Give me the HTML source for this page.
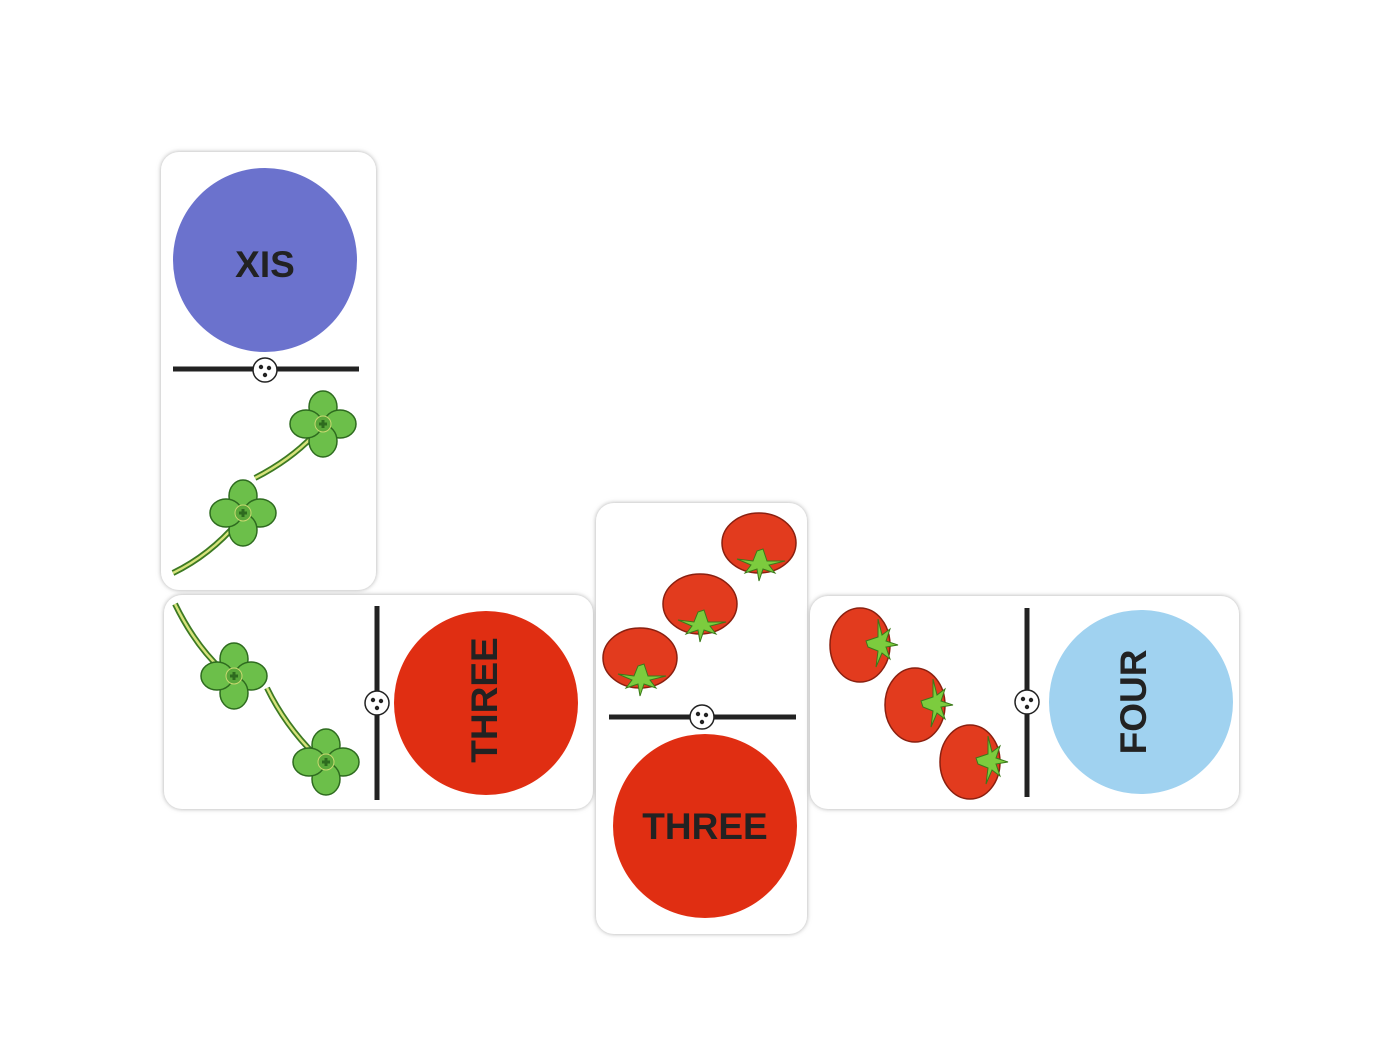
<!DOCTYPE html>
<html><head><meta charset="utf-8"><style>
html,body{margin:0;padding:0;background:#fff;}
svg{display:block;}
text{font-family:"Liberation Sans",sans-serif;font-weight:bold;fill:#222;}
</style></head><body>
<svg width="1400" height="1050" viewBox="0 0 1400 1050">
<defs>
<filter id="sh" x="-10%" y="-10%" width="120%" height="120%"><feDropShadow dx="0" dy="0" stdDeviation="2.5" flood-color="#888" flood-opacity="0.7"/></filter>
<g id="clover">
 <g stroke="#2e6b1f" stroke-width="1.5" fill="#6cbf4a">
  <ellipse cx="0" cy="-17" rx="14" ry="16"/>
  <ellipse cx="17" cy="0" rx="16" ry="14"/>
  <ellipse cx="0" cy="17" rx="14" ry="16"/>
  <ellipse cx="-17" cy="0" rx="16" ry="14"/>
 </g>
 <circle r="8" fill="#5aa83a" stroke="#c8d870" stroke-width="1"/>
 <path d="M-4 0h8M0 -4v8" stroke="#2e6b1f" stroke-width="3"/>
</g>
<g id="tom">
 <ellipse cx="0" cy="0" rx="37" ry="30" fill="#e23b1e" stroke="#8a2010" stroke-width="1.5"/>
 <path d="M-2 8 L-6 18 L-22 16 L-8 22 L-14 30 L-2 26 L0 38 L4 26 L16 30 L10 22 L26 18 L8 18 L4 6 Z" fill="#7ccc3e" stroke="#3a7a1a" stroke-width="1"/>
</g>
<g id="spin">
 <circle r="12" fill="#fff" stroke="#222" stroke-width="1.5"/>
 <circle cx="-4" cy="-3" r="2.2" fill="#222"/><circle cx="4" cy="-2" r="2.2" fill="#222"/><circle cx="0" cy="5" r="2.2" fill="#222"/>
</g>
</defs>

<!-- Tile 1 -->
<rect x="161" y="152" width="215" height="438" rx="18" fill="#fff" filter="url(#sh)"/>
<circle cx="265" cy="260" r="92" fill="#6b72cd"/>
<text x="265" y="277" font-size="37" text-anchor="middle">XIS</text>
<line x1="173" y1="369" x2="359" y2="369" stroke="#222" stroke-width="5"/>
<use href="#spin" x="265" y="370"/>
<path d="M255 478 Q290 460 313 436" stroke="#3d7a23" stroke-width="6" fill="none"/>
<path d="M255 478 Q290 460 313 436" stroke="#d6e37a" stroke-width="2.5" fill="none"/>
<path d="M173 573 Q210 555 238 522" stroke="#3d7a23" stroke-width="6" fill="none"/>
<path d="M173 573 Q210 555 238 522" stroke="#d6e37a" stroke-width="2.5" fill="none"/>
<use href="#clover" x="323" y="424"/>
<use href="#clover" x="243" y="513"/>

<!-- Tile 2 -->
<rect x="164" y="595" width="429" height="214" rx="18" fill="#fff" filter="url(#sh)"/>
<path d="M175 604 Q195 645 222 670" stroke="#3d7a23" stroke-width="6" fill="none"/>
<path d="M175 604 Q195 645 222 670" stroke="#d6e37a" stroke-width="2.5" fill="none"/>
<path d="M267 688 Q285 725 315 755" stroke="#3d7a23" stroke-width="6" fill="none"/>
<path d="M267 688 Q285 725 315 755" stroke="#d6e37a" stroke-width="2.5" fill="none"/>
<use href="#clover" x="234" y="676"/>
<use href="#clover" x="326" y="762"/>
<line x1="377" y1="606" x2="377" y2="800" stroke="#222" stroke-width="5"/>
<use href="#spin" x="377" y="703"/>
<circle cx="486" cy="703" r="92" fill="#e02e12"/>
<text x="0" y="0" font-size="37" text-anchor="middle" transform="translate(497,700) rotate(-90)">THREE</text>

<!-- Tile 3 -->
<rect x="596" y="503" width="211" height="431" rx="18" fill="#fff" filter="url(#sh)"/>
<use href="#tom" x="759" y="543"/>
<use href="#tom" x="700" y="604"/>
<use href="#tom" x="640" y="658"/>
<line x1="609" y1="717" x2="796" y2="717" stroke="#222" stroke-width="5"/>
<use href="#spin" x="702" y="717"/>
<circle cx="705" cy="826" r="92" fill="#e02e12"/>
<text x="705" y="839" font-size="37" text-anchor="middle">THREE</text>

<!-- Tile 4 -->
<rect x="810" y="596" width="429" height="213" rx="18" fill="#fff" filter="url(#sh)"/>
<use href="#tom" transform="translate(860,645) rotate(-90)"/>
<use href="#tom" transform="translate(915,705) rotate(-90)"/>
<use href="#tom" transform="translate(970,762) rotate(-90)"/>
<line x1="1027" y1="608" x2="1027" y2="797" stroke="#222" stroke-width="5"/>
<use href="#spin" x="1027" y="702"/>
<circle cx="1141" cy="702" r="92" fill="#a0d2f0"/>
<text x="0" y="0" font-size="37" text-anchor="middle" transform="translate(1146,702) rotate(-90)">FOUR</text>
</svg>
</body></html>
